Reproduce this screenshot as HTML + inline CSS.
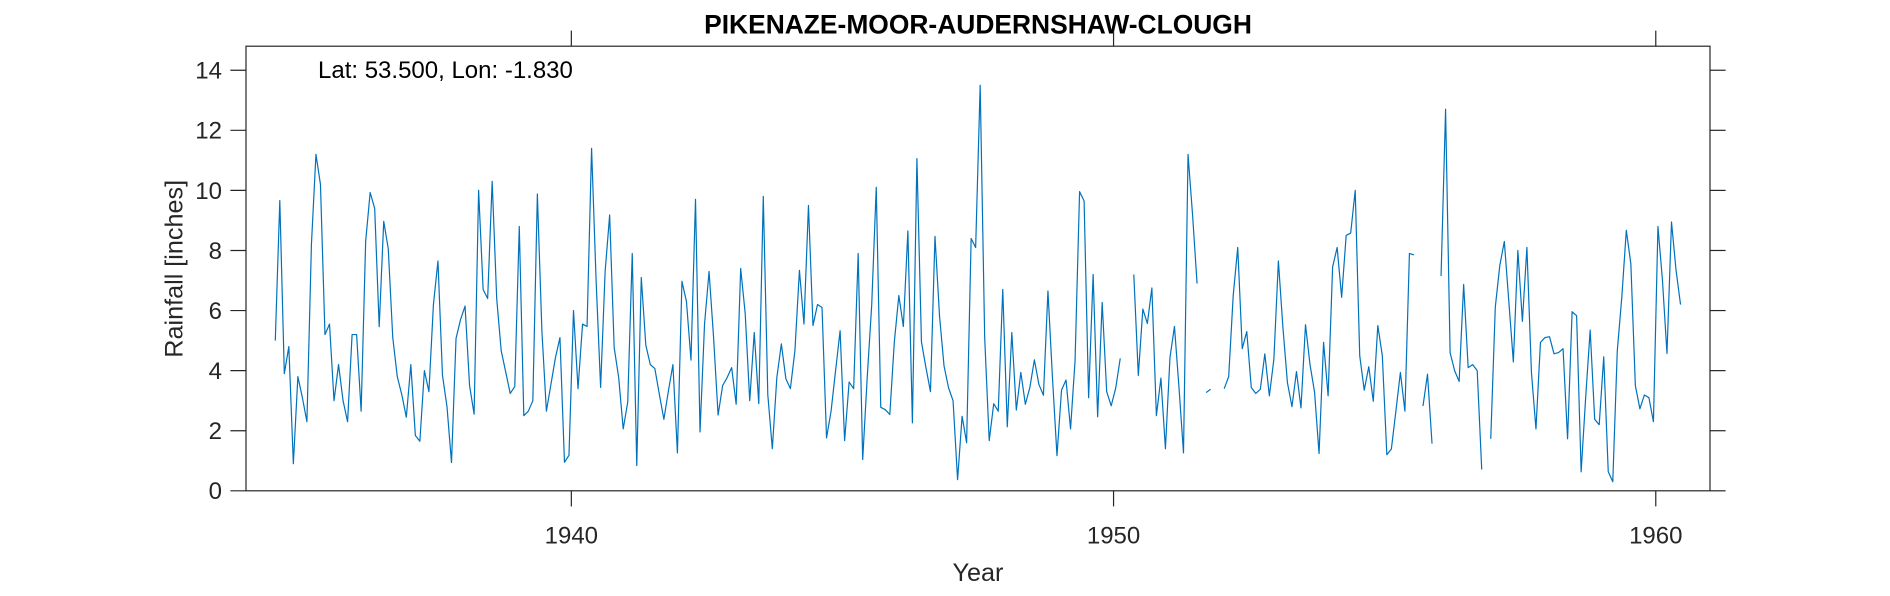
<!DOCTYPE html>
<html><head><meta charset="utf-8"><style>
html,body{margin:0;padding:0;background:#fff;}
body{width:1890px;height:591px;overflow:hidden;}
svg text{font-family:"Liberation Sans",Arial,sans-serif;}
</style></head><body>
<svg id="chart" width="1890" height="591" viewBox="0 0 1575 492.5" xmlns="http://www.w3.org/2000/svg">
<rect x="0" y="0" width="1575" height="492.5" fill="#fff"/>
<text x="815" y="28" text-anchor="middle" font-size="22" font-weight="bold" fill="#000">PIKENAZE-MOOR-AUDERNSHAW-CLOUGH</text>
<g id="axes"></g>
<g id="series"></g>
<text x="265" y="65" font-size="20" fill="#000">Lat: 53.500, Lon: -1.830</text>
<text x="815" y="484" text-anchor="middle" font-size="21" fill="#262626">Year</text>
<text x="0" y="0" transform="translate(152,224) rotate(-90)" text-anchor="middle" font-size="21" fill="#262626">Rainfall [inches]</text>
</svg>
<script>
const startYear = 1934.54;
const rainfall = [
5.0,9.66,3.9,4.8,0.9,3.8,3.1,2.3,8.2,11.2,
10.2,5.2,5.55,3.0,4.2,3.0,2.3,5.2,5.2,2.65,
8.3,9.93,9.4,5.46,8.97,8.06,5.1,3.8,3.2,2.45,
4.2,1.84,1.65,4.0,3.3,6.2,7.65,3.85,2.8,0.94,
5.07,5.7,6.15,3.5,2.55,10.0,6.7,6.4,10.3,6.4,4.66,
3.95,3.24,3.47,8.8,2.5,2.65,3.0,9.88,5.33,2.65,
3.54,4.43,5.1,0.95,1.18,6.0,3.4,5.55,5.47,11.4,
7.0,3.44,7.3,9.18,4.77,3.77,2.06,2.95,7.9,0.84,
7.1,4.85,4.2,4.07,3.21,2.38,3.32,4.2,1.26,6.97,
6.3,4.35,9.7,1.96,5.55,7.3,5.1,2.52,3.5,3.77,4.1,2.88,
7.4,5.9,3.0,5.27,2.9,9.8,3.2,1.4,3.77,4.89,
3.73,3.4,4.66,7.34,5.55,9.5,5.5,6.2,6.1,1.76,
2.65,4.0,5.33,1.67,3.62,3.4,7.9,1.04,3.77,6.2,
10.1,2.78,2.7,2.54,4.95,6.5,5.47,8.65,2.26,11.06,
4.96,4.1,3.3,8.47,5.83,4.16,3.43,3.0,0.37,2.48,1.6,8.4,
8.1,13.5,5.1,1.67,2.9,2.65,6.7,2.13,5.27,2.69,
3.94,2.88,3.44,4.36,3.54,3.18,6.65,3.77,1.17,3.35,
3.69,2.06,4.33,9.96,9.65,3.1,7.2,2.46,6.27,3.3,
2.83,3.42,4.41,null,null,7.2,3.84,6.05,5.57,6.75,
2.5,3.75,1.4,4.43,5.47,3.44,1.26,11.2,9.2,6.9,
null,3.27,3.38,null,null,
3.4,3.8,6.5,8.1,4.73,5.3,3.44,3.24,3.38,4.56,
3.16,4.38,7.65,5.44,3.6,2.8,3.97,2.76,5.53,4.2,
3.29,1.24,4.94,3.16,7.45,8.1,6.44,8.5,8.58,10.0,
4.5,3.35,4.13,2.98,5.5,4.5,1.2,1.39,2.65,3.94,
2.65,7.9,7.85,null,2.82,3.88,1.57,null,7.15,
12.7,4.6,4.0,3.64,6.87,4.1,4.2,4.0,0.71,null,
1.73,6.11,7.5,8.3,6.3,4.29,8.0,5.64,8.1,3.94,
2.06,4.94,5.1,5.13,4.56,4.6,4.73,1.73,5.96,5.83,
0.63,3.1,5.35,2.38,2.2,4.46,0.64,0.3,4.66,6.44,
8.67,7.56,3.5,2.73,3.19,3.1,2.3,8.8,7.0,4.57,
8.95,7.35,6.2
];
const xTicks = [1940, 1950, 1960];
const yTicks = [0, 2, 4, 6, 8, 10, 12, 14];
const xDomain = [1934, 1961];
const yDomain = [0, 14.8];

const L = 205, R = 1425, T = 38.5, B = 409;
const NS = 'http://www.w3.org/2000/svg';
function xs(v){ return L + (v - xDomain[0]) / (xDomain[1] - xDomain[0]) * (R - L); }
function ys(v){ return B - (v - yDomain[0]) / (yDomain[1] - yDomain[0]) * (B - T); }
function mk(tag, attrs){ const e = document.createElementNS(NS, tag); for (const k in attrs) e.setAttribute(k, attrs[k]); return e; }

const axes = document.getElementById('axes');
const box = mk('rect', {x:L, y:T, width:R-L, height:B-T, fill:'none', stroke:'#262626', 'stroke-width':1.0});


axes.appendChild(box);

xTicks.forEach(function(t){
  const x = xs(t);
  const tb = mk('line', {x1:x, x2:x, y1:B, y2:B+13, stroke:'#262626', 'stroke-width':1.0});
  
  
  axes.appendChild(tb);
  const tt = mk('line', {x1:x, x2:x, y1:T, y2:T-13, stroke:'#262626', 'stroke-width':1.0});
  
  
  axes.appendChild(tt);
  const lb = mk('text', {x:x, y:B+44, 'text-anchor':'middle', 'font-size':20, fill:'#262626'});
  lb.textContent = t;
  
  
  axes.appendChild(lb);
});
yTicks.forEach(function(t){
  const y = ys(t);
  const tl = mk('line', {x1:L-13, x2:L, y1:y, y2:y, stroke:'#262626', 'stroke-width':1.0});
  
  
  axes.appendChild(tl);
  const tr = mk('line', {x1:R, x2:R+13, y1:y, y2:y, stroke:'#262626', 'stroke-width':1.0});
  
  
  axes.appendChild(tr);
  const lb = mk('text', {x:L-20, y:y+7, 'text-anchor':'end', 'font-size':20, fill:'#262626'});
  lb.textContent = t;
  
  
  axes.appendChild(lb);
});

const series = document.getElementById('series');
let d = '', pen = false;
rainfall.forEach(function(v, i){
  if (v === null) { pen = false; return; }
  const x = xs(startYear + i / 12), y = ys(v);
  d += (pen ? 'L' : 'M') + x.toFixed(2) + ',' + y.toFixed(2);
  pen = true;
});
const path = mk('path', {d:d, fill:'none', stroke:'#0072BD', 'stroke-width':1.0, 'stroke-linejoin':'round'});


series.appendChild(path);
</script>
</body></html>
